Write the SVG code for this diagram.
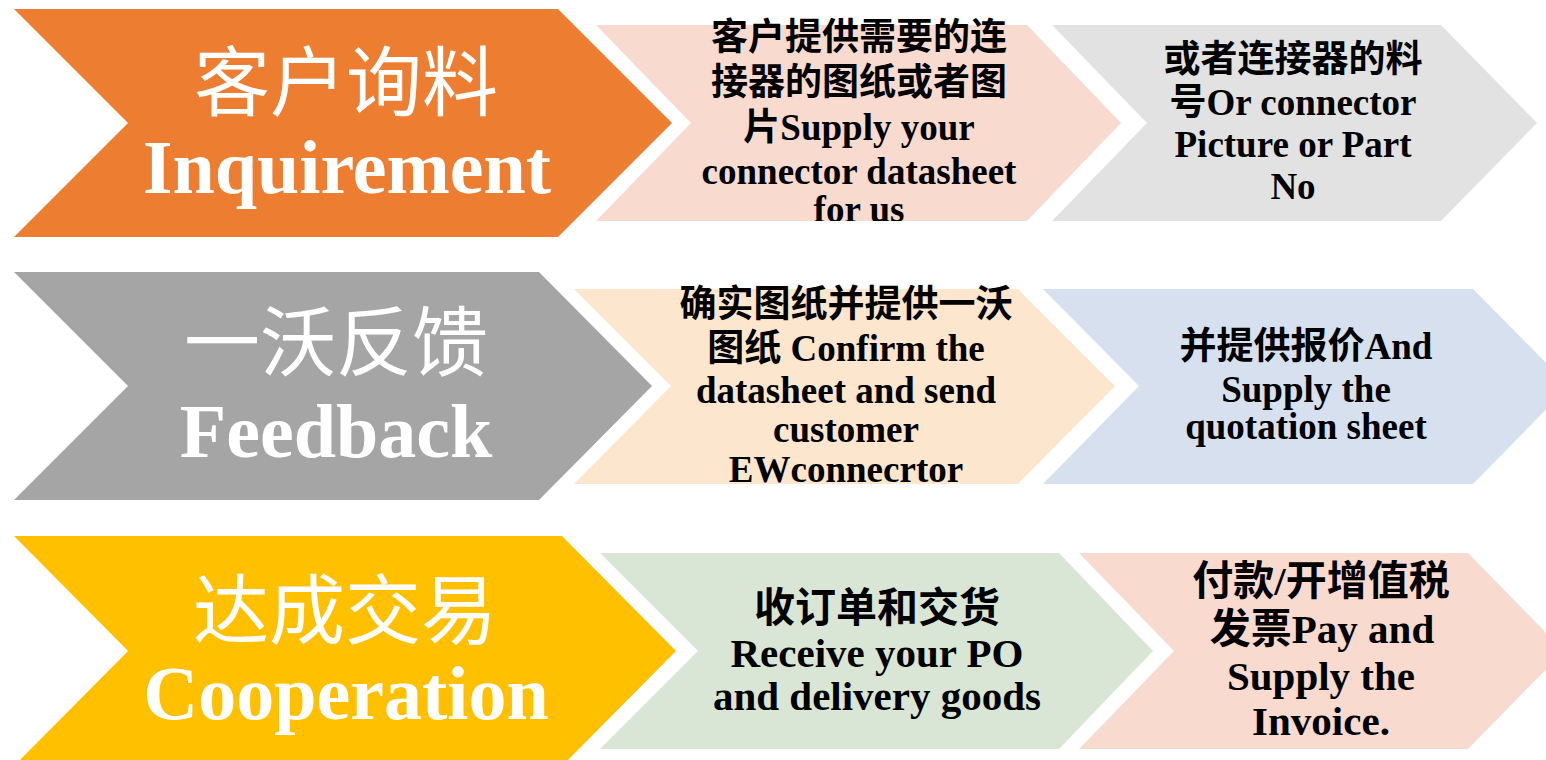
<svg xmlns="http://www.w3.org/2000/svg" width="1546" height="760" viewBox="0 0 1546 760">
<style>
.big{font-family:'Liberation Serif','Noto Sans CJK SC',serif;fill:#fff;text-anchor:middle;font-size:76px}
.bigzh{font-family:'Noto Sans CJK SC',sans-serif;fill:#fff;text-anchor:middle;font-size:76px;font-weight:400}
.bigen{font-weight:700}
.sm{font-family:'Liberation Serif','Noto Sans CJK SC',serif;fill:#000;text-anchor:middle;font-weight:700;font-size:37px}
.sm41{font-size:41px}
</style>
<defs>
<clipPath id="c1b"><rect x="590" y="0" width="540" height="221"/></clipPath>
<clipPath id="c2b"><rect x="570" y="262" width="550" height="222"/></clipPath>
</defs>
<rect width="1546" height="760" fill="#fff"/>

<g id="inquirement">
<polygon points="14,9 558,9 672,123 558,237 14,237 128,123" fill="#ED7D31"/>
<text class="bigzh" x="346" y="110">客户询料</text>
<text class="big bigen" x="347" y="193">Inquirement</text>
</g>
<g id="supply-datasheet">
<polygon points="596,25 1027,25 1121,123 1027,221 596,221 691,123" fill="#F8DACF"/>
<g clip-path="url(#c1b)">
<text class="sm" x="859" y="50">客户提供需要的连</text>
<text class="sm" x="859" y="95">接器的图纸或者图</text>
<text class="sm" x="859" y="140">片Supply your</text>
<text class="sm" x="859" y="184">connector datasheet</text>
<text class="sm" x="859" y="222">for us</text>
</g>
</g>
<g id="part-no">
<polygon points="1052,25 1441,25 1537,123 1441,221 1052,221 1147,123" fill="#E2E2E2"/>
<text class="sm" x="1293" y="72">或者连接器的料</text>
<text class="sm" x="1293" y="115">号Or connector</text>
<text class="sm" x="1293" y="157">Picture or Part</text>
<text class="sm" x="1293" y="199">No</text>
</g>

<g id="feedback">
<polygon points="14,272 539,272 652,386 539,500 14,500 128,386" fill="#A5A5A5"/>
<text class="bigzh" x="336" y="370">一沃反馈</text>
<text class="big bigen" x="336" y="457">Feedback</text>
</g>
<g id="confirm-datasheet">
<polygon points="574,289 1018,289 1115,386 1018,484 574,484 671,386" fill="#FCE7CE"/>
<g clip-path="url(#c2b)">
<text class="sm" x="846" y="317">确实图纸并提供一沃</text>
<text class="sm" x="846" y="361">图纸 Confirm the</text>
<text class="sm" x="846" y="403">datasheet and send</text>
<text class="sm" x="846" y="442">customer</text>
<text class="sm" x="846" y="482">EWconnecrtor</text>
</g>
</g>
<g id="quotation">
<polygon points="1043,289 1473,289 1569,386 1473,484 1043,484 1139,386" fill="#D7E0EF"/>
<text class="sm" x="1306" y="359">并提供报价And</text>
<text class="sm" x="1306" y="402">Supply the</text>
<text class="sm" x="1306" y="439">quotation sheet</text>
</g>

<g id="cooperation">
<polygon points="14,536 562,536 676,651 562,766 14,766 128,651" fill="#FFC000"/>
<text class="bigzh" x="345" y="638">达成交易</text>
<text class="big bigen" x="346" y="719">Cooperation</text>
</g>
<g id="receive-po">
<polygon points="600,553 1059,553 1153,651 1059,749 600,749 698,651" fill="#DAE6D5"/>
<text class="sm sm41" x="877" y="622">收订单和交货</text>
<text class="sm sm41" x="877" y="667">Receive your PO</text>
<text class="sm sm41" x="877" y="710">and delivery goods</text>
</g>
<g id="payment">
<polygon points="1079,553 1468,553 1564,651 1468,749 1079,749 1174,651" fill="#F8DACF"/>
<text class="sm sm41" x="1321" y="595">付款/开增值税</text>
<text class="sm sm41" x="1322" y="643">发票Pay and</text>
<text class="sm sm41" x="1321" y="690">Supply the</text>
<text class="sm sm41" x="1321" y="735">Invoice.</text>
</g>
</svg>
